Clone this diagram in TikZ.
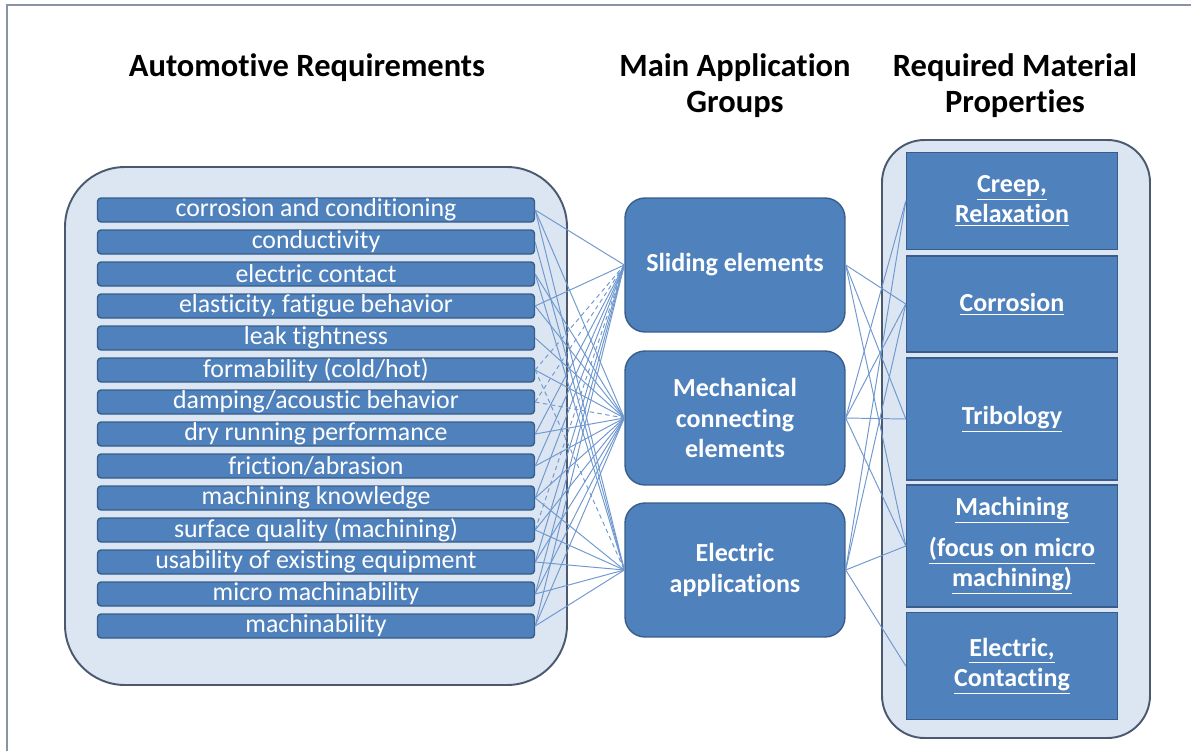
\documentclass[tikz,border=0pt]{standalone}
\usepackage{fontspec}
\setmainfont{Carlito}[Ligatures=CommonOff]
\usetikzlibrary{positioning}

\definecolor{boxfill}{HTML}{4F81BD}
\definecolor{boxline}{HTML}{385D8A}
\definecolor{panelfill}{HTML}{DCE6F2}
\definecolor{panelline}{HTML}{4A5970}
\definecolor{linkblue}{HTML}{6F98CF}
\definecolor{pageline}{HTML}{8A93A5}

\begin{document}
\begin{tikzpicture}[
    x=0.02cm, y=-0.02cm,
    heading/.style={font=\fontsize{18.5}{20.5}\selectfont\bfseries, align=center},
    panel/.style={draw=panelline, fill=panelfill, line width=1.1pt},
    req/.style={rectangle, draw=boxline, fill=boxfill, line width=0.8pt, rounded corners=2pt, minimum width=8.74cm, minimum height=0.48cm, inner sep=0pt, text=white, font=\fontsize{14.7}{16}\selectfont},
    group/.style={rectangle, draw=boxline, fill=boxfill, line width=0.8pt, rounded corners=0.4cm, minimum width=4.4cm, minimum height=2.68cm, text=white, align=center, font=\fontsize{14.8}{17.6}\selectfont\bfseries},
    prop/.style={rectangle, draw=boxline, fill=boxfill, line width=0.8pt, minimum width=4.22cm, text=white, align=center, font=\fontsize{14.8}{17}\selectfont\bfseries},
    link/.style={draw=linkblue, line width=0.55pt},
    weaklink/.style={link, dashed, dash pattern=on 2.5pt off 2pt}
]
    \useasboundingbox (0,0) rectangle (1191,751);

    % page edge
    \draw[pageline, line width=0.9pt] (7,751) -- (7,5) -- (1191,5);

    % column headings
    \node[heading] (hreq) at (307,68) {Automotive Requirements};
    \node[heading] (hgrp) at (735,86) {Main Application\\Groups};
    \node[heading] (hprop) at (1015,86) {Required Material\\Properties};

    % containers
    \draw[panel, rounded corners=1.2cm] (65,167) rectangle (567,685);
    \draw[panel, rounded corners=0.85cm] (882,140) rectangle (1150,738);

    % requirements
    \node[req] (r1) at (316,210) {corrosion and conditioning};
    \node[req] (r2) at (316,242) {conductivity};
    \node[req] (r3) at (316,274) {electric contact};
    \node[req] (r4) at (316,306) {elasticity, fatigue behavior};
    \node[req] (r5) at (316,338) {leak tightness};
    \node[req] (r6) at (316,370) {formability (cold/hot)};
    \node[req] (r7) at (316,402) {damping/acoustic behavior};
    \node[req] (r8) at (316,434) {dry running performance};
    \node[req] (r9) at (316,466) {friction/abrasion};
    \node[req] (r10) at (316,498) {machining knowledge};
    \node[req] (r11) at (316,530) {surface quality (machining)};
    \node[req] (r12) at (316,562) {usability of existing equipment};
    \node[req] (r13) at (316,594) {micro machinability};
    \node[req] (r14) at (316,626) {machinability};

    % application groups
    \node[group] (slide) at (735,265) {Sliding elements};
    \node[group] (mech) at (735,418) {Mechanical\\connecting\\elements};
    \node[group] (elec) at (735,570) {Electric\\applications};

    % material properties
    \node[prop, minimum height=1.94cm] (creep) at (1012,201) {\underline{Creep,}\\\underline{Relaxation}};
    \node[prop, minimum height=1.92cm] (corr) at (1012,304) {\underline{Corrosion}};
    \node[prop, minimum height=2.44cm] (trib) at (1012,419) {\underline{Tribology}};
    \node[prop, minimum height=2.44cm] (mach) at (1012,546) {\underline{Machining}\\[6.5pt]\underline{(focus on micro}\\\underline{machining)}};
    \node[prop, minimum height=2.14cm] (econ) at (1012,666) {\underline{Electric,}\\\underline{Contacting}};

    % Links to sliding elements
    \draw[link] (r1.east) -- (slide.west);
    \draw[link] (r4.east) -- (slide.west);
    \draw[weaklink] (r6.east) -- (slide.west);
    \draw[weaklink] (r7.east) -- (slide.west);
    \draw[link] (r8.east) -- (slide.west);
    \draw[link] (r9.east) -- (slide.west);
    \draw[link] (r10.east) -- (slide.west);
    \draw[weaklink] (r11.east) -- (slide.west);
    \draw[link] (r12.east) -- (slide.west);
    \draw[link] (r13.east) -- (slide.west);
    \draw[link] (r14.east) -- (slide.west);

    % Links to mechanical connecting elements
    \draw[link] (r1.east) -- (mech.west);
    \draw[link] (r3.east) -- (mech.west);
    \draw[link] (r4.east) -- (mech.west);
    \draw[link] (r5.east) -- (mech.west);
    \draw[link] (r6.east) -- (mech.west);
    \draw[weaklink] (r7.east) -- (mech.west);
    \draw[link] (r8.east) -- (mech.west);
    \draw[link] (r9.east) -- (mech.west);
    \draw[link] (r10.east) -- (mech.west);
    \draw[link] (r11.east) -- (mech.west);
    \draw[link] (r12.east) -- (mech.west);
    \draw[link] (r13.east) -- (mech.west);
    \draw[link] (r14.east) -- (mech.west);

    % Links to electric applications
    \draw[link] (r1.east) -- (elec.west);
    \draw[link] (r2.east) -- (elec.west);
    \draw[link] (r3.east) -- (elec.west);
    \draw[weaklink] (r6.east) -- (elec.west);
    \draw[link] (r10.east) -- (elec.west);
    \draw[link] (r11.east) -- (elec.west);
    \draw[link] (r12.east) -- (elec.west);
    \draw[link] (r13.east) -- (elec.west);
    \draw[link] (r14.east) -- (elec.west);

    % Links to material properties
    \draw[link] (slide.east) -- (corr.west);
    \draw[link] (slide.east) -- (trib.west);
    \draw[link] (slide.east) -- (mach.west);
    \draw[link] (mech.east) -- (creep.west);
    \draw[link] (mech.east) -- (corr.west);
    \draw[link] (mech.east) -- (trib.west);
    \draw[link] (mech.east) -- (mach.west);
    \draw[link] (elec.east) -- (creep.west);
    \draw[link] (elec.east) -- (corr.west);
    \draw[link] (elec.east) -- (mach.west);
    \draw[link] (elec.east) -- (econ.west);
\end{tikzpicture}
\end{document}
